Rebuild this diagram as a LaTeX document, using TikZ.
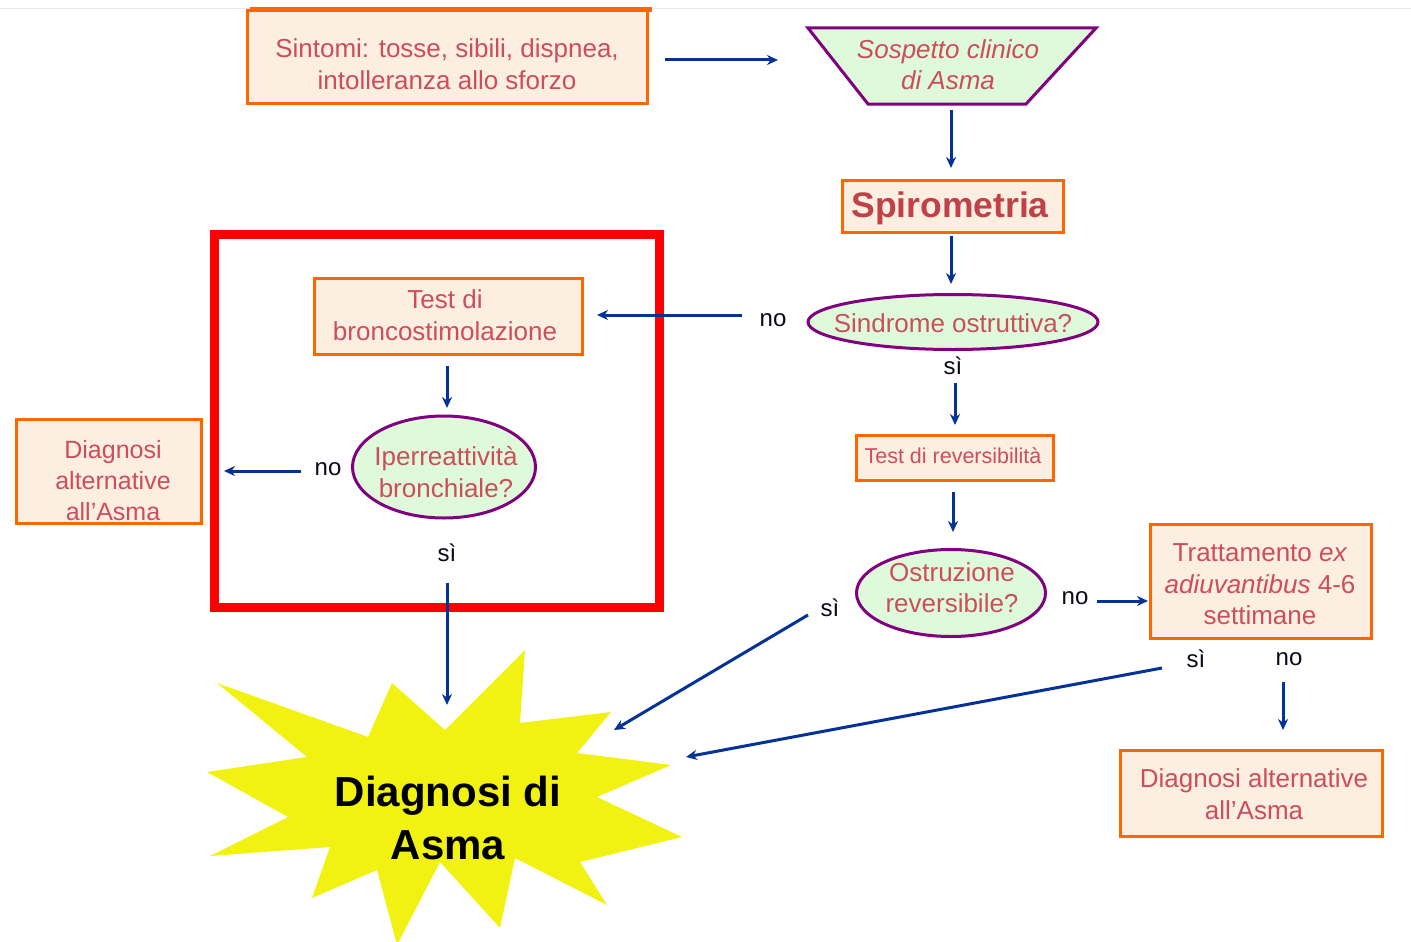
\documentclass[tikz,border=0pt]{standalone}
\usepackage{fontspec}
\setmainfont{Liberation Sans}
\usetikzlibrary{shapes.geometric,arrows.meta}
\definecolor{boxfill}{RGB}{253,238,226}
\definecolor{boxline}{RGB}{255,102,0}
\definecolor{txtred}{RGB}{204,78,90}
\definecolor{spirored}{RGB}{192,66,72}
\definecolor{qfill}{RGB}{222,250,218}
\definecolor{qline}{RGB}{128,0,128}
\definecolor{arrblue}{RGB}{5,50,150}
\definecolor{staryellow}{RGB}{242,242,18}
\definecolor{lbltext}{RGB}{10,10,25}
\definecolor{edgegray}{RGB}{232,232,232}
\begin{document}
\begin{tikzpicture}[x=1pt,y=-1pt,
  box/.style={draw=boxline, line width=3pt, fill=boxfill, inner sep=0pt},
  quest/.style={ellipse, draw=qline, line width=3pt, fill=qfill, inner sep=0pt},
  btext/.style={text=txtred, align=center, inner sep=0pt, font=\fontsize{26}{32}\selectfont},
  lbl/.style={text=lbltext, font=\fontsize{24}{28}\selectfont, inner sep=0pt},
  arr/.style={draw=arrblue, line width=3pt, -{Stealth[length=11pt,width=10pt]}},
  frame/.style={draw=red, line width=9pt}
]
\useasboundingbox (0,0) rectangle (1411,942);
\fill[white] (0,0) rectangle (1411,942);
\draw[edgegray, line width=1pt] (0,9) -- (1411,9);

% --- boxes and questions ---
\node[box, minimum width=400pt, minimum height=92pt] (sint) at (447,57) {};
\draw[boxline, line width=5pt] (250,10) -- (652,10);
\node[btext] (sint-t) at (447,64) {Sintomi: tosse, sibili, dispnea,\\intolleranza allo sforzo};

\fill[qfill] (808,28) -- (1096,28) -- (1026,104) -- (868,104) -- cycle;
\draw[qline, line width=3pt, line join=miter] (808,28) -- (1096,28) -- (1026,104) -- (868,104) -- cycle;
\node[btext, font=\itshape\fontsize{26}{31}\selectfont] (sosp) at (948,65) {Sospetto clinico\\di Asma};

\node[box, minimum width=221pt, minimum height=52pt] (spiro) at (953,206.5) {};
\node[btext, text=spirored, font=\bfseries\fontsize{35.5}{40}\selectfont] (spiro-t) at (950,208.5) {Spirometria};

\node[quest, minimum width=290pt, minimum height=55pt] (sind) at (953,322) {};
\node[btext] (sind-t) at (953,323) {Sindrome ostruttiva?};

\node[box, minimum width=268pt, minimum height=76pt] (bronco) at (448.5,316.5) {};
\node[btext] (bronco-t) at (445,315.5) {Test di\\broncostimolazione};

\node[quest, minimum width=183pt, minimum height=102pt] (iper) at (444,467) {};
\node[btext] (iper-t) at (446,472) {Iperreattività\\bronchiale?};

\node[box, minimum width=185pt, minimum height=104pt] (altl) at (109,471.5) {};
\node[btext, font=\fontsize{25}{31}\selectfont] (altl-t) at (113,480.5) {Diagnosi\\alternative\\all’Asma};

\node[box, minimum width=197pt, minimum height=45pt] (rev) at (955,458) {};
\node[btext, font=\fontsize{21.5}{24}\selectfont] (rev-t) at (953,456) {Test di reversibilità};

\node[quest, minimum width=189pt, minimum height=87pt] (ostr) at (951,593) {};
\node[btext, font=\fontsize{26}{31}\selectfont] (ostr-t) at (952,588) {Ostruzione\\reversibile?};

\node[box, minimum width=221pt, minimum height=114pt] (tratt) at (1261,581.5) {};
\node[btext, font=\fontsize{26}{31.5}\selectfont] (tratt-t) at (1260,584.5)
  {Trattamento \textit{ex}\\\textit{adiuvantibus} 4-6\\settimane};

\node[box, minimum width=262pt, minimum height=86pt] (altr) at (1251.5,793) {};
\node[btext] (altr-t) at (1254,794) {Diagnosi alternative\\all’Asma};

% --- star ---
\fill[staryellow] (207,772) -- (307,757) -- (217,683) -- (368,737) -- (392,683) -- (445,730)
  -- (525,650) -- (520,723) -- (611,712) -- (577,753) -- (671,765) -- (597,797)
  -- (682,837) -- (580,862) -- (607,905) -- (515,858) -- (500,928) -- (440,862)
  -- (397,945) -- (377,870) -- (312,898) -- (330,847) -- (210,856) -- (288,817) -- cycle;
\node[align=center, inner sep=0pt, text=black, font=\bfseries\fontsize{42}{53}\selectfont]
  (dx) at (448,818) {Diagnosi di\\Asma};

% --- highlight frame ---
\draw[frame] (214.5,234) rectangle (659,607.5);

% --- labels ---
\node[lbl] (no1) at (773,320) {no};
\node[lbl] (si1) at (953,366) {sì};
\node[lbl] (no2) at (328,469) {no};
\node[lbl] (si2) at (447,553) {sì};
\node[lbl] (si3) at (830,608) {sì};
\node[lbl] (no3) at (1075,598) {no};
\node[lbl] (si4) at (1196,659) {sì};
\node[lbl] (no4) at (1289,659) {no};

% --- connector ends ---
\coordinate (a1s) at (665,60);   \coordinate (a1e) at (778,60);
\coordinate (a2s) at (951,110);  \coordinate (a2e) at (951,168);
\coordinate (a3s) at (951,236);  \coordinate (a3e) at (951,284);
\coordinate (a4s) at (742,315);  \coordinate (a4e) at (597,315);
\coordinate (a5s) at (447,366);  \coordinate (a5e) at (447,408);
\coordinate (a6s) at (301,471);  \coordinate (a6e) at (224,471);
\coordinate (a7s) at (447,583);  \coordinate (a7e) at (447,705);
\coordinate (a8s) at (955,383);  \coordinate (a8e) at (955,425);
\coordinate (a9s) at (953,492);  \coordinate (a9e) at (953,532);
\coordinate (a10s) at (808,615); \coordinate (a10e) at (614,730);
\coordinate (a11s) at (1097,601); \coordinate (a11e) at (1148,601);
\coordinate (a12s) at (1162,668); \coordinate (a12e) at (686,757);
\coordinate (a13s) at (1283,682); \coordinate (a13e) at (1283,730);

\draw[arr] (a1s) -- (a1e);
\draw[arr] (a2s) -- (a2e);
\draw[arr] (a3s) -- (a3e);
\draw[arr] (a4s) -- (a4e);
\draw[arr] (a5s) -- (a5e);
\draw[arr] (a6s) -- (a6e);
\draw[arr] (a7s) -- (a7e);
\draw[arr] (a8s) -- (a8e);
\draw[arr] (a9s) -- (a9e);
\draw[arr] (a10s) -- (a10e);
\draw[arr] (a11s) -- (a11e);
\draw[arr] (a12s) -- (a12e);
\draw[arr] (a13s) -- (a13e);
\end{tikzpicture}
\end{document}
